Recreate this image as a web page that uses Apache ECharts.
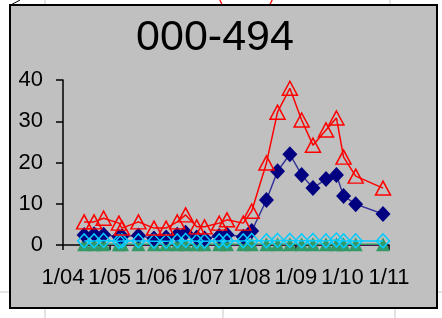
<!DOCTYPE html>
<html><head><meta charset="utf-8">
<script src="https://cdn.jsdelivr.net/npm/echarts@6/dist/echarts.min.js"></script>
<style>html,body{margin:0;padding:0;background:#fff;}#c{width:442px;height:318px;}</style>
</head><body><div id="c"></div>
<script>
const title = '000-494';
const xTickLabels = ['1/04','1/05','1/06','1/07','1/08','1/09','1/10','1/11'];
const dates = ['2004-06-15','2004-09-01','2004-11-15','2005-03-15','2005-04-08','2005-08-15','2005-12-15','2006-03-20','2006-06-15','2006-08-20','2006-11-15','2007-01-15','2007-05-10','2007-07-10','2007-11-15','2008-01-20','2008-05-15','2008-08-10','2008-11-15','2009-02-15','2009-05-15','2009-08-25','2009-11-15','2010-01-10','2010-04-15','2010-11-15'];
const redVals = [5.6,5.6,6.5,5.3,4.1,5.6,4.1,4.1,5.6,7.3,4.4,4.4,5.3,6.1,5.3,8.2,19.9,32.2,38.0,30.3,24.2,27.9,30.8,21.3,16.7,13.8];
const navyVals = [2.4,2.6,2.5,2.0,2.1,2.3,1.6,1.8,2.5,3.0,1.8,1.6,2.2,2.5,2.0,3.4,10.9,17.9,22.0,17.0,13.8,16.0,17.0,11.9,9.9,7.5];
const cyanVals = [1.0,1.0,1.1,0.9,1.0,1.0,0.9,0.9,1.0,1.1,0.9,0.9,1.0,1.0,1.0,1.1,1.0,1.1,1.1,1.0,1.1,1.0,1.2,1.0,1.0,1.0];
const greenVals = [0.2,0.2,0.2,0.2,0.2,0.2,0.2,0.2,0.2,0.2,0.2,0.2,0.2,0.2,0.2,0.2,0.2,0.2,0.2,0.2,0.2,0.2,0.2,0.2,0.2,0.2];
const purpleVals = [0,0,0,0,0,0,0,0,0,0,0,0,0,0,0,0,0,0,0,0,0,0,0,0,0,0];

function toYear(s){
  const d = new Date(s + 'T00:00:00Z');
  const y = d.getUTCFullYear();
  const a = Date.UTC(y,0,1), b = Date.UTC(y+1,0,1);
  return y + (d.getTime()-a)/(b-a);
}
const xs = dates.map(toYear);
const pair = arr => arr.map((v,i)=>[xs[i], v]);

const chart = echarts.init(document.getElementById('c'), null, {renderer:'canvas'});
const font = '"Liberation Sans",Arial,sans-serif';
chart.setOption({
  animation:false,
  backgroundColor:'#ffffff',
  graphic:[
    {type:'line', z:-10, shape:{x1:45,y1:0,x2:45,y2:5}, style:{stroke:'#c8c8c8',lineWidth:1}},
    {type:'line', z:-10, shape:{x1:390,y1:0,x2:390,y2:5}, style:{stroke:'#c8c8c8',lineWidth:1}},
    {type:'line', z:-10, shape:{x1:45,y1:308,x2:45,y2:318}, style:{stroke:'#c8c8c8',lineWidth:1}},
    {type:'line', z:-10, shape:{x1:223,y1:308,x2:223,y2:318}, style:{stroke:'#c8c8c8',lineWidth:1}},
    {type:'line', z:-10, shape:{x1:395,y1:308,x2:395,y2:318}, style:{stroke:'#c8c8c8',lineWidth:1}},
    {type:'line', z:-10, shape:{x1:0,y1:292,x2:10,y2:292}, style:{stroke:'#c8c8c8',lineWidth:1}},
    {type:'line', z:-10, shape:{x1:437,y1:292,x2:442,y2:292}, style:{stroke:'#c8c8c8',lineWidth:1}},
    {type:'line', z:-10, shape:{x1:9,y1:6,x2:20,y2:0}, style:{stroke:'#000',lineWidth:1}},
    {type:'arc', z:-10, shape:{cx:246,cy:-10,r:28,startAngle:0.3,endAngle:Math.PI-0.3}, style:{stroke:'#ff0000',fill:null,lineWidth:1.3}},
    {type:'rect', z:-5, shape:{x:10,y:5,width:427,height:303}, style:{fill:'#c0c0c0',stroke:'#000',lineWidth:2}},
    {type:'text', z:10, x:215, y:38, style:{text:title, fill:'#000', font:'43px "Liberation Sans",Arial,sans-serif', textAlign:'center', textVerticalAlign:'middle'}}
  ],
  grid:{left:63, right:53, top:80, bottom:73, containLabel:false},
  xAxis:{
    type:'value', min:2004, max:2011, interval:1,
    axisLine:{show:true, onZero:false, lineStyle:{color:'#000', width:1.5}},
    axisTick:{show:true, length:5, lineStyle:{color:'#000', width:1.5}},
    splitLine:{show:false},
    axisLabel:{color:'#000', fontFamily:font, fontSize:22, margin:22, showMinLabel:true, showMaxLabel:true, hideOverlap:false,
      formatter:(v)=>xTickLabels[Math.round(v-2004)] || ''}
  },
  yAxis:{
    type:'value', min:0, max:40, interval:10,
    axisLine:{show:true, lineStyle:{color:'#000', width:1.5}},
    axisTick:{show:true, length:7, lineStyle:{color:'#000', width:1.5}},
    splitLine:{show:false},
    axisLabel:{color:'#000', fontFamily:font, fontSize:22, margin:20}
  },
  series:[
    {type:'line', name:'purple', data:pair(purpleVals), symbol:'none', clip:false,
      lineStyle:{color:'#660066', width:2, type:'dotted'}, z:2},
    {type:'line', name:'green', data:pair(greenVals), symbol:'triangle', symbolSize:[14,14], clip:false,
      itemStyle:{color:'#339966', borderColor:'#339966', borderWidth:0},
      lineStyle:{color:'#339966', width:1.5}, z:3},
    {type:'line', name:'cyan', data:pair(cyanVals), symbol:'diamond', symbolSize:[13,14],
      itemStyle:{color:'rgba(0,0,0,0)', borderColor:'#00ccff', borderWidth:1.5},
      lineStyle:{color:'#00ccff', width:1.5}, z:5},
    {type:'line', name:'navy', data:pair(navyVals), symbol:'diamond', symbolSize:[15,16],
      itemStyle:{color:'#000080', borderColor:'#000080', borderWidth:0},
      lineStyle:{color:'#333399', width:1.5}, z:4},
    {type:'line', name:'red', data:pair(redVals), symbol:'triangle', symbolSize:[15,14],
      itemStyle:{color:'rgba(0,0,0,0)', borderColor:'#ff0000', borderWidth:1.5},
      lineStyle:{color:'#ff0000', width:1.5}, z:6}
  ]
});
</script></body></html>
